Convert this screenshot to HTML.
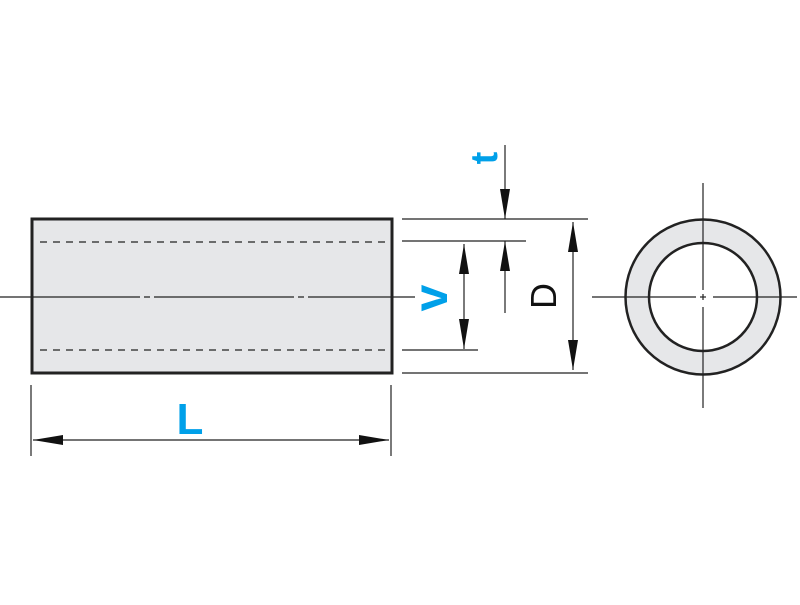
<!DOCTYPE html>
<html><head><meta charset="utf-8"><style>html,body{margin:0;padding:0;background:#fff}</style></head><body>
<svg width="800" height="600" xmlns="http://www.w3.org/2000/svg">
<defs>
<marker id="a" viewBox="0 0 30 10" refX="30" refY="5" markerWidth="30" markerHeight="10" markerUnits="userSpaceOnUse" orient="auto-start-reverse"><path d="M0,0 L30,5 L0,10 Z" fill="#111"/></marker>
</defs>
<rect x="32" y="219" width="360" height="154" fill="#e6e7e9" stroke="#222" stroke-width="3"/>
<g stroke="#222" stroke-width="1.3" stroke-dasharray="7,6">
<line x1="40" y1="242" x2="392" y2="242"/>
<line x1="40" y1="350" x2="392" y2="350"/>
</g>
<line x1="0" y1="297" x2="392" y2="297" stroke="#222" stroke-width="1.3" stroke-dasharray="140,4,6,4"/>
<line x1="392" y1="297" x2="415" y2="297" stroke="#222" stroke-width="1.3"/>
<g stroke="#222" stroke-width="1.2">
<line x1="402" y1="219" x2="588" y2="219"/>
<line x1="402" y1="241" x2="526" y2="241"/>
<line x1="402" y1="350" x2="478" y2="350"/>
<line x1="402" y1="373" x2="588" y2="373"/>
<line x1="505" y1="145" x2="505" y2="219" marker-end="url(#a)"/>
<line x1="505" y1="313" x2="505" y2="241" marker-end="url(#a)"/>
<line x1="573" y1="222" x2="573" y2="370" marker-start="url(#a)" marker-end="url(#a)"/>
<line x1="464" y1="244" x2="464" y2="349" marker-start="url(#a)" marker-end="url(#a)"/>
<line x1="31" y1="385" x2="31" y2="456"/>
<line x1="391" y1="385" x2="391" y2="456"/>
<line x1="33" y1="440" x2="389" y2="440" marker-start="url(#a)" marker-end="url(#a)"/>
</g>
<circle cx="703" cy="297" r="66" fill="none" stroke="#e6e7e9" stroke-width="23"/>
<circle cx="703" cy="297" r="77.5" fill="none" stroke="#222" stroke-width="2.5"/>
<circle cx="703" cy="297" r="54" fill="none" stroke="#222" stroke-width="2.5"/>
<g stroke="#222" stroke-width="1.2">
<line x1="592" y1="297" x2="696" y2="297"/>
<line x1="700" y1="297" x2="706" y2="297"/>
<line x1="713" y1="297" x2="797" y2="297"/>
<line x1="703" y1="183" x2="703" y2="290"/>
<line x1="703" y1="294" x2="703" y2="300"/>
<line x1="703" y1="307" x2="703" y2="408"/>
</g>
<text x="190" y="434" font-family="Liberation Sans, sans-serif" font-weight="bold" font-size="44" fill="#00a0e9" text-anchor="middle">L</text>
<text transform="translate(447,298) rotate(-90)" font-family="Liberation Sans, sans-serif" font-weight="bold" font-size="48" fill="#00a0e9" text-anchor="middle">v</text>
<text transform="translate(497,158) rotate(-90)" font-family="Liberation Sans, sans-serif" font-weight="bold" font-size="38" fill="#00a0e9" text-anchor="middle">t</text>
<text transform="translate(556,296) rotate(-90)" font-family="Liberation Sans, sans-serif" font-size="36" fill="#111" text-anchor="middle">D</text>
</svg>
</body></html>
